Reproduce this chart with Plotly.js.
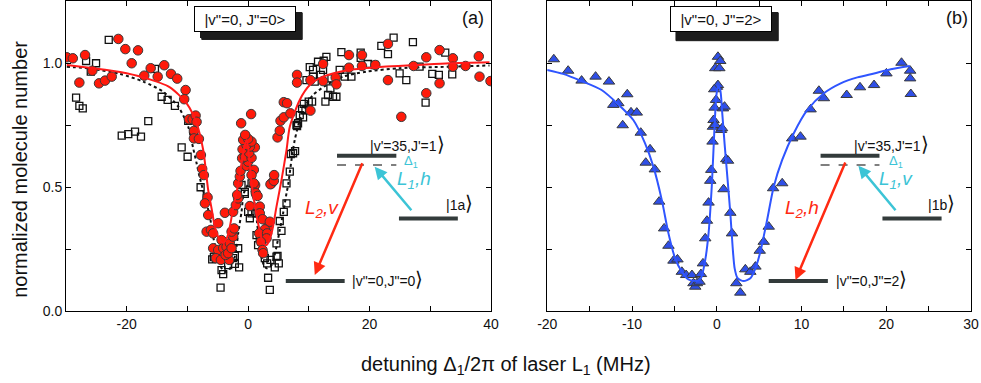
<!DOCTYPE html>
<html>
<head>
<meta charset="utf-8">
<script src="https://cdn.plot.ly/plotly-3.0.1.min.js"></script>
<style>
  html, body { margin: 0; padding: 0; background: #fff; }
  #plot { width: 981px; height: 383px; }
</style>
</head>
<body>
<div id="plot"></div>
<script>
'use strict'

// panel (a): |v"=0, J"=0>, red circles (L2 v) and open squares

const redX = [-29.87, -28.88, -27.80, -26.86, -25.66, -24.56, -23.57, -22.47, -21.38, -20.23, -19.18, -18.14, -17.11, -16.05, -14.90, -13.82, -12.71, -11.68, -10.30, -10.53,
  -9.75, -9.14, -8.65, -8.49, -8.93, -8.93, -8.11, -7.78, -7.57, -7.29, -6.68, -7.12, -6.58, -6.84, -6.13, -5.76, -4.93, -5.76, -4.93, -5.31,
  -4.49, -4.38, -4.11, -3.55, -3.13, -3.72, -3.29, -3.01, -2.73, -2.47, -2.73, -2.30, -3.83, -2.47, -2.02, -1.64, -1.81, -1.64, -1.37, -1.25,
  -0.26, 0.00, -0.99, -0.54, 0.56, 0.16, -0.92, 1.10, 0.28, -0.26, -0.82, 0.56, 0.00, -0.49, -1.15, 0.49, 0.94, 0.56, 1.15, 1.38,
  0.94, 1.27, 1.55, 0.28, 1.92, 1.92, 2.37, 3.29, 2.75, 1.81, 3.13, 3.03, 2.09, 2.37, 2.47, 3.57, 3.85, 3.68, 4.23, 4.28,
  4.84, 5.21, 5.33, 5.87, 6.97, 5.87, 6.41, 8.06, 8.06, 10.26, 10.26, 12.34, 12.34, 14.42, 14.54, 16.61, 18.75, 16.61, 18.75, 20.95,
  23.03, 23.03, 25.23, 27.25, 29.34, 29.34, 31.53, 31.53, 33.72, 33.72, 35.81, 37.99, 38.11, 39.92]
const redY = [1.023, 1.019, 0.921, 1.032, 0.969, 0.918, 0.929, 0.945, 1.097, 1.056, 0.999, 1.051, 0.949, 0.979, 0.945, 0.991, 0.956, 0.937, 0.891, 0.854,
  0.773, 0.773, 0.788, 0.763, 0.726, 0.696, 0.694, 0.629, 0.573, 0.548, 0.458, 0.434, 0.387, 0.320, 0.327, 0.313, 0.354, 0.253, 0.246, 0.213,
  0.206, 0.286, 0.253, 0.259, 0.206, 0.226, 0.233, 0.273, 0.253, 0.300, 0.320, 0.333, 0.396, 0.400, 0.427, 0.454, 0.468, 0.515, 0.542, 0.565,
  0.585, 0.602, 0.616, 0.622, 0.618, 0.638, 0.652, 0.660, 0.663, 0.669, 0.690, 0.683, 0.694, 0.710, 0.757, 0.794, 0.569, 0.548, 0.508, 0.468,
  0.515, 0.475, 0.464, 0.423, 0.421, 0.394, 0.370, 0.340, 0.329, 0.313, 0.313, 0.293, 0.279, 0.246, 0.233, 0.360, 0.515, 0.511, 0.525, 0.548,
  0.700, 0.727, 0.767, 0.781, 0.797, 0.842, 0.838, 0.952, 0.921, 0.931, 0.808, 0.996, 0.927, 0.941, 0.914, 1.032, 1.032, 0.981, 0.988, 0.992,
  1.077, 0.931, 0.783, 0.988, 1.023, 0.878, 1.052, 0.918, 1.019, 0.985, 0.988, 1.027, 0.945, 0.927]

const sqX = [-28.34, -27.80, -27.24, -26.69, -25.92, -25.05, -22.96, -20.82, -19.74, -18.63, -17.65, -16.45, -15.35, -14.24, -13.26, -12.06, -10.95, -9.97, -9.87, -8.93,
  -7.83, -6.84, -5.64, -5.92, -5.31, -4.38, -4.11, -4.54, -3.29, -2.47, -2.19, -2.19, -1.64, -1.48, -1.09, -0.54, -0.54, 0.56, 1.10, 0.00,
  0.28, 0.56, 1.38, 1.38, 1.92, 2.20, 1.64, 2.75, 3.13, 3.68, 4.39, 3.29, 3.57, 4.67, 5.05, 4.84, 4.67, 5.49, 5.21, 5.87,
  6.32, 6.32, 6.86, 7.40, 7.02, 7.73, 8.22, 7.96, 8.06, 8.50, 9.05, 8.88, 9.16, 9.44, 9.98, 10.53, 9.61, 10.15, 10.69, 10.69,
  10.97, 11.51, 12.45, 12.89, 11.96, 12.34, 13.72, 15.08, 15.90, 17.01, 15.36, 18.54, 18.54, 19.74, 20.84, 13.55, 13.16, 13.98, 14.54, 12.73,
  21.94, 23.03, 23.96, 27.14, 24.95, 26.05, 28.24, 30.33, 31.41, 32.47, 33.62, 29.23]
const sqY = [0.860, 0.827, 0.817, 1.008, 0.965, 0.999, 1.093, 0.707, 0.713, 0.723, 0.703, 0.766, 0.976, 0.864, 0.851, 0.827, 0.660, 0.622, 0.767, 0.719,
  0.499, 0.457, 0.217, 0.208, 0.210, 0.165, 0.149, 0.094, 0.185, 0.213, 0.222, 0.190, 0.253, 0.176, 0.508, 0.479, 0.472, 0.515, 0.495, 0.400,
  0.374, 0.394, 0.394, 0.306, 0.293, 0.279, 0.266, 0.213, 0.192, 0.206, 0.176, 0.134, 0.085, 0.219, 0.192, 0.222, 0.273, 0.323, 0.363, 0.400,
  0.434, 0.515, 0.562, 0.636, 0.633, 0.645, 0.757, 0.750, 0.746, 0.790, 0.781, 0.815, 0.835, 0.810, 0.844, 0.844, 0.931, 0.983, 0.972, 0.945,
  0.925, 1.005, 1.009, 1.025, 0.952, 0.972, 0.938, 0.972, 0.945, 0.945, 1.044, 1.042, 1.021, 0.996, 0.992, 0.898, 0.871, 0.864, 0.864, 0.844,
  1.069, 1.036, 1.102, 1.084, 0.958, 0.931, 0.985, 0.956, 0.952, 1.042, 0.954, 0.840]

// fitted curves of panel (a)
const redFitX = [-29.87, -25.49, -21.10, -17.27, -12.88, -10.13, -8.49, -7.40, -6.58, -5.97, -5.48, -4.65, -4.11, -3.50, -3.01, -2.52, -1.91, -1.09, -0.54, -0.20,
  0.20, 0.56, 1.10, 1.64, 2.47, 3.03, 3.85, 4.67, 5.49, 6.32, 6.86, 8.50, 10.15, 12.34, 16.73, 22.20, 27.70, 33.17, 39.75]
const redFitY = [0.992, 0.979, 0.964, 0.942, 0.902, 0.837, 0.757, 0.649, 0.488, 0.407, 0.340, 0.286, 0.274, 0.294, 0.340, 0.407, 0.475, 0.596, 0.669, 0.690,
  0.609, 0.515, 0.427, 0.354, 0.273, 0.266, 0.313, 0.421, 0.528, 0.649, 0.743, 0.851, 0.911, 0.945, 0.972, 0.985, 0.992, 0.999, 1.003]

const dotFitX = [-29.87, -25.54, -21.10, -17.27, -13.98, -11.51, -9.87, -9.05, -8.49, -7.94, -7.12, -6.30, -5.76, -4.93, -4.38, -3.83, -3.17, -2.19, -1.64, -1.09,
  -0.71, 0.12, 0.94, 1.48, 1.92, 2.47, 3.03, 3.85, 4.67, 5.21, 5.76, 6.32, 6.58, 7.14, 7.68, 8.50, 9.33, 10.69, 12.89, 15.63,
  19.47, 24.95, 33.17, 39.75]
const dotFitY = [0.985, 0.976, 0.956, 0.925, 0.884, 0.824, 0.743, 0.656, 0.596, 0.535, 0.460, 0.380, 0.300, 0.206, 0.173, 0.158, 0.165, 0.219, 0.313, 0.400,
  0.475, 0.512, 0.448, 0.354, 0.259, 0.192, 0.172, 0.185, 0.259, 0.327, 0.394, 0.475, 0.508, 0.609, 0.690, 0.770, 0.824, 0.871, 0.911, 0.945,
  0.965, 0.979, 0.985, 0.990]

// panel (b): |v"=0, J"=2>, blue triangles

const triX = [-19.23, -17.54, -15.95, -14.30, -12.72, -10.56, -11.62, -12.21, -10.12, -9.44, -11.10, -8.97, -7.87, -8.38, -7.31, -6.80, -6.21, -5.70, -5.11, -4.64,
  -4.12, -3.61, -2.93, -2.75, -2.54, -2.34, -2.04, -1.87, -1.63, -1.36, -1.16, -0.97, -0.77, -0.65, -0.50, -0.45, -0.38, -0.18, -0.26, -0.09,
  0.02, 0.14, -0.18, 0.30, 0.14, 0.41, -0.30, 0.50, 0.62, 0.73, 0.92, 1.12, 1.33, 0.80, 1.60, 1.80, 2.31, 2.78, 3.37, 3.96,
  4.56, 5.07, 5.54, 6.13, 6.65, 7.72, 8.90, 9.88, 11.07, 12.05, 12.64, 15.33, 16.90, 18.56, 20.02, 21.80, 22.82, 22.82, 22.90]
const triY = [1.015, 0.969, 0.929, 0.945, 0.925, 0.874, 0.838, 0.831, 0.801, 0.800, 0.749, 0.719, 0.652, 0.598, 0.571, 0.441, 0.333, 0.263, 0.203, 0.208,
  0.158, 0.145, 0.145, 0.112, 0.098, 0.112, 0.118, 0.149, 0.192, 0.293, 0.364, 0.437, 0.525, 0.569, 0.683, 0.743, 0.770, 0.750, 0.820, 0.851,
  0.904, 0.911, 0.979, 0.979, 1.025, 1.008, 0.894, 0.730, 0.737, 0.817, 0.824, 0.612, 0.606, 0.491, 0.396, 0.313, 0.112, 0.074, 0.168, 0.158,
  0.179, 0.243, 0.279, 0.340, 0.495, 0.515, 0.696, 0.703, 0.813, 0.888, 0.858, 0.871, 0.902, 0.911, 0.958, 1.001, 0.969, 0.938, 0.875]

const blueFitX = [-20.02, -18.13, -15.95, -13.59, -11.62, -9.85, -8.46, -7.48, -6.49, -5.70, -4.91, -4.12, -3.34, -2.34, -1.87, -1.36, -0.97, -0.57, -0.30, -0.06,
  0.14, 0.41, 0.62, 0.92, 1.28, 1.60, 1.87, 2.11, 2.46, 3.17, 3.96, 4.56, 5.15, 5.94, 6.72, 7.72, 9.09, 10.67, 12.64, 14.62,
  16.59, 18.56, 20.53, 22.78]
const blueFitY = [0.972, 0.956, 0.927, 0.891, 0.833, 0.770, 0.676, 0.582, 0.448, 0.313, 0.212, 0.158, 0.128, 0.121, 0.132, 0.206, 0.313, 0.515, 0.717, 0.864,
  0.907, 0.891, 0.810, 0.676, 0.528, 0.394, 0.259, 0.172, 0.132, 0.121, 0.132, 0.172, 0.240, 0.367, 0.501, 0.609, 0.717, 0.810, 0.878, 0.918,
  0.942, 0.958, 0.975, 0.988]

// ticks
const xTicksA = [-30, -20, -10, 0, 10, 20, 30, 40]
const xLabelsA = ['', '-20', '', '0', '', '20', '', '40']
const xTicksB = [-20, -15, -10, -5, 0, 5, 10, 15, 20, 25, 30]
const xLabelsB = ['-20', '', '-10', '', '0', '', '10', '', '20', '', '30']
const yTicks = [0, 0.25, 0.5, 0.75, 1.0]
const yLabels = ['0.0', '', '0.5', '', '1.0']

///////////////////////////////////////////////////////

const FONT = 'Liberation Sans, Arial, sans-serif'
const LEVEL = '#333b3b'
const CYAN = '#3cc4d6'
const RED = '#ff2a12'
const KET = "<span style='font-size:20px'>⟩</span>"

const traces = [
  {
    x: sqX, y: sqY, xaxis: 'x', yaxis: 'y', type: 'scatter', mode: 'markers',
    marker: { symbol: 'square-open', size: 7, color: '#111', line: { width: 1.3 } }
  },
  {
    x: dotFitX, y: dotFitY, xaxis: 'x', yaxis: 'y', type: 'scatter', mode: 'lines',
    line: { color: '#111', width: 2, dash: 'dot', shape: 'spline', smoothing: 0.7 }
  },
  {
    x: redX, y: redY, xaxis: 'x', yaxis: 'y', type: 'scatter', mode: 'markers',
    marker: { symbol: 'circle', size: 9.5, color: '#ff1a0a', line: { color: '#3a3a3a', width: 1 } }
  },
  {
    x: redFitX, y: redFitY, xaxis: 'x', yaxis: 'y', type: 'scatter', mode: 'lines',
    line: { color: '#ff1a1a', width: 2, shape: 'spline', smoothing: 0.7 }
  },
  {
    x: triX, y: triY, xaxis: 'x2', yaxis: 'y2', type: 'scatter', mode: 'markers',
    marker: { symbol: 'triangle-up', size: 10, color: '#2f4fe6', line: { color: '#3a3a3a', width: 1 } }
  },
  {
    x: blueFitX, y: blueFitY, xaxis: 'x2', yaxis: 'y2', type: 'scatter', mode: 'lines',
    line: { color: '#2f55ff', width: 2, shape: 'spline', smoothing: 0.7 }
  }
]

const axisStyle = {
  showline: true, linecolor: '#000', linewidth: 1, mirror: 'allticks',
  ticks: 'inside', ticklen: 5, tickcolor: '#000', tickwidth: 1,
  showgrid: false, zeroline: false, tickmode: 'array',
  tickfont: { family: FONT, size: 14, color: '#111' }
}

// energy-level sketch for one panel
const levelSketch = (xr, yr, d) => {
  const shapes = [
    { type: 'line', xref: xr, yref: yr, x0: d.up[0], x1: d.up[1], y0: 0.626, y1: 0.626, line: { color: LEVEL, width: 4 } },
    { type: 'line', xref: xr, yref: yr, x0: d.up[0], x1: d.up[1], y0: 0.589, y1: 0.589, line: { color: '#555', width: 1.5, dash: 'dash' } },
    { type: 'line', xref: xr, yref: yr, x0: d.mid[0], x1: d.mid[1], y0: 0.373, y1: 0.373, line: { color: LEVEL, width: 4 } },
    { type: 'line', xref: xr, yref: yr, x0: d.low[0], x1: d.low[1], y0: 0.121, y1: 0.121, line: { color: LEVEL, width: 4 } }
  ]
  const t = (x, y, text, color, size) => ({
    xref: xr, yref: yr, x, y, text, showarrow: false,
    font: { family: FONT, size, color }, xanchor: 'center', yanchor: 'middle'
  })
  const annotations = [
    t(d.upText, 0.672, "|v'=35,J'=1" + KET, '#111', 14),
    t(d.delta, 0.603, 'Δ<sub>1</sub>', CYAN, 13),
    t(d.l1[0], 0.528, d.l1[1], CYAN, 19),
    t(d.l2[0], 0.411, d.l2[1], RED, 19),
    t(d.midText[0], 0.434, d.midText[1] + KET, '#111', 14),
    t(d.lowText[0], 0.131, d.lowText[1] + KET, '#111', 14),
    {
      xref: xr, yref: yr, axref: xr, ayref: yr, x: d.cyan[2], y: d.cyan[3], ax: d.cyan[0], ay: d.cyan[1],
      showarrow: true, arrowhead: 2, arrowsize: 1, arrowwidth: 2.5, arrowcolor: CYAN, text: ''
    },
    {
      xref: xr, yref: yr, axref: xr, ayref: yr, x: d.red[2], y: d.red[3], ax: d.red[0], ay: d.red[1],
      showarrow: true, arrowhead: 2, arrowsize: 1, arrowwidth: 2.5, arrowcolor: RED, text: ''
    }
  ]
  return { shapes, annotations }
}

const sketchA = levelSketch('x', 'y', {
  up: [14.64, 24.41], mid: [24.84, 34.54], low: [6.20, 15.90],
  upText: 26.2, delta: 26.9, l1: [27.4, '<i>L<sub>1</sub>,h</i>'], l2: [12.1, '<i>L<sub>2</sub>,v</i>'],
  midText: [34.8, '|1a'], lowText: [23.0, '|v"=0,J"=0'],
  cyan: [27.09, 0.400, 20.84, 0.582], red: [18.91, 0.602, 10.97, 0.145]
})
const sketchB = levelSketch('x2', 'y2', {
  up: [12.25, 19.20], mid: [19.55, 26.53], low: [6.13, 13.11],
  upText: 20.6, delta: 21.2, l1: [21.1, '<i>L<sub>1</sub>,v</i>'], l2: [10.1, '<i>L<sub>2</sub>,h</i>'],
  midText: [26.5, '|1b'], lowText: [18.25, '|v"=0,J"=2'],
  cyan: [21.24, 0.400, 16.71, 0.586], red: [15.24, 0.605, 9.29, 0.125]
})

// state boxes: dark drop shadow (paper rect + shifted box) under a white text box
const shadow = (x0, x1, y0, y1) => ({
  type: 'rect', xref: 'paper', yref: 'paper', x0, x1, y0, y1,
  fillcolor: '#1c1c1c', opacity: 1, line: { color: '#1c1c1c', width: 1 }
})
const stateBox = (xr, yr, x, text, dark) => ({
  xref: xr, yref: yr, x, y: 1.177, text: dark ? '&nbsp;' : text, showarrow: false,
  xshift: dark ? 6 : 0, yshift: dark ? -6 : 0,
  width: 96, height: 20, bgcolor: dark ? '#1c1c1c' : 'white', bordercolor: dark ? '#1c1c1c' : 'black',
  borderwidth: 1, borderpad: 2, opacity: 1,
  font: { family: FONT, size: 15, color: '#111' }
})

const annotations = [
  stateBox('x', 'y', -0.5, '', true),
  stateBox('x2', 'y2', 0.5, '', true),
  stateBox('x', 'y', -0.5, '|v"=0, J"=0&gt;', false),
  stateBox('x2', 'y2', 0.5, '|v"=0, J"=2&gt;', false),
  { xref: 'x', yref: 'y', x: 37.1, y: 1.181, text: '(a)', showarrow: false, font: { family: FONT, size: 18, color: '#111' } },
  { xref: 'x2', yref: 'y2', x: 28.3, y: 1.181, text: '(b)', showarrow: false, font: { family: FONT, size: 18, color: '#111' } },
  ...sketchA.annotations,
  ...sketchB.annotations,
  {
    xref: 'paper', yref: 'paper', x: -0.051, y: 0.458, xanchor: 'center', yanchor: 'middle', textangle: -90, showarrow: false,
    text: 'normalized molecule number', font: { family: FONT, size: 20, color: '#111' }
  },
  {
    xref: 'paper', yref: 'paper', x: 0.486, y: -0.177, xanchor: 'center', yanchor: 'middle', showarrow: false,
    text: 'detuning Δ<sub>1</sub>/2π of laser L<sub>1</sub> (MHz)', font: { family: FONT, size: 20, color: '#111' }
  }
]

const layout = {
  width: 981, height: 383,
  margin: { l: 66, r: 10, t: 1, b: 72 },
  paper_bgcolor: '#fff', plot_bgcolor: '#fff',
  showlegend: false,
  font: { family: FONT, color: '#111' },
  xaxis: Object.assign({}, axisStyle, { domain: [0, 0.4696], range: [-30, 40], tickvals: xTicksA, ticktext: xLabelsA, anchor: 'y' }),
  yaxis: Object.assign({}, axisStyle, { range: [0, 1.25], tickvals: yTicks, ticktext: yLabels, anchor: 'x' }),
  xaxis2: Object.assign({}, axisStyle, { domain: [0.5318, 1], range: [-20, 30], tickvals: xTicksB, ticktext: xLabelsB, anchor: 'y2' }),
  yaxis2: Object.assign({}, axisStyle, { range: [0, 1.25], tickvals: yTicks, ticktext: yLabels, showticklabels: false, anchor: 'x2' }),
  shapes: [
    shadow(0.150, 0.261, 0.876, 0.962),
    shadow(0.674, 0.787, 0.872, 0.962),
    ...sketchA.shapes,
    ...sketchB.shapes
  ],
  annotations
}

Plotly.newPlot('plot', traces, layout, { staticPlot: true, displayModeBar: false })
</script>
</body>
</html>
